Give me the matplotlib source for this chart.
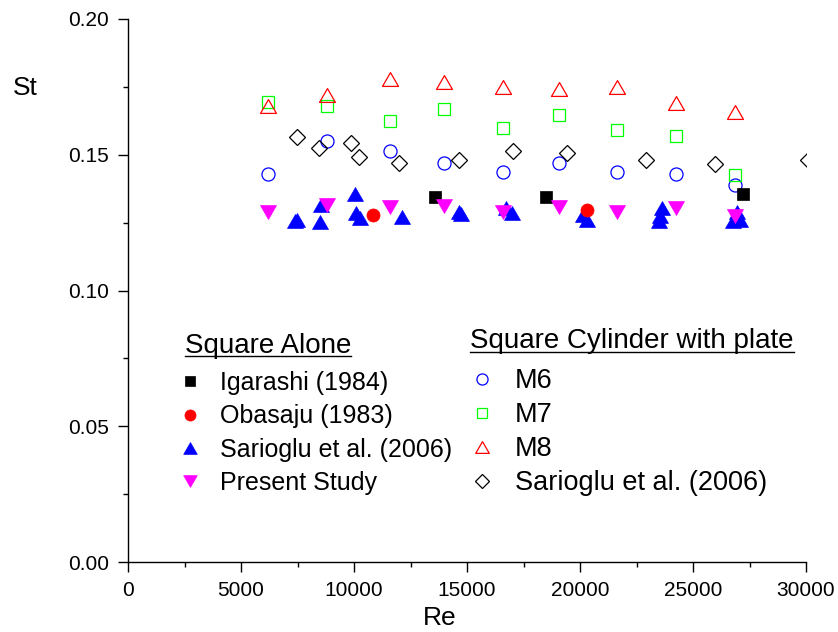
import matplotlib
matplotlib.use("Agg")
import matplotlib.pyplot as plt
from matplotlib.lines import Line2D

plt.rcParams['font.family'] = ['Liberation Sans', 'DejaVu Sans']

# ---------------- data ----------------
re_m = [6200, 8800, 11600, 14000, 16600, 19050, 21650, 24250, 26850]
st_m6 = [0.1430, 0.1552, 0.1512, 0.1468, 0.1438, 0.1468, 0.1438, 0.1428, 0.1390]
st_m7 = [0.1695, 0.1678, 0.1626, 0.1667, 0.1600, 0.1648, 0.1590, 0.1570, 0.1425]
st_m8 = [0.1678, 0.1720, 0.1778, 0.1768, 0.1748, 0.1744, 0.1748, 0.1690, 0.1657]

re_sar_plate = [7480, 8450, 9870, 10210, 11980, 14650, 17040, 19440, 22940, 25990, 30080]
st_sar_plate = [0.1565, 0.1525, 0.1545, 0.1493, 0.1468, 0.1480, 0.1515, 0.1507, 0.1480, 0.1466, 0.1480]

re_igarashi = [13580, 18480, 27230]
st_igarashi = [0.1345, 0.1345, 0.1356]

re_obasaju = [10840, 20300]
st_obasaju = [0.1278, 0.1298]

re_present = [6200, 8800, 11600, 14000, 16600, 19050, 21650, 24250, 26850]
st_present = [0.1290, 0.1315, 0.1306, 0.1310, 0.1288, 0.1308, 0.1288, 0.1303, 0.1274]

re_sar_alone = [7400, 7480, 8510, 8550, 10045, 10090, 10265, 12110, 14650, 14750,
                16730, 17005, 20120, 20300, 23510, 23550, 23640, 26790, 26960, 27080]
st_sar_alone = [0.1255, 0.1260, 0.1251, 0.1315, 0.1357, 0.1287, 0.1268, 0.1272, 0.1290, 0.1283,
                0.1303, 0.1284, 0.1278, 0.1260, 0.1257, 0.1274, 0.1303, 0.1256, 0.1290, 0.1260]

x_ticks = [0, 5000, 10000, 15000, 20000, 25000, 30000]
y_ticks = [0.00, 0.05, 0.10, 0.15, 0.20]

# ---------------- figure ----------------
W, H = 838, 632
fig = plt.figure(figsize=(W / 100, H / 100), dpi=100)
ax = fig.add_axes([128 / W, (H - 562) / H, (806 - 128) / W, (562 - 19) / H])

up_tri = [(0, 0.866), (-1, -0.866), (1, -0.866), (0, 0.866)]
dn_tri = [(0, -0.866), (-1, 0.866), (1, 0.866), (0, -0.866)]

BLUE, GREEN, RED, MAG = '#0000ff', '#00ff00', '#ff0000', '#ff00ff'

l_m6, = ax.plot(re_m, st_m6, ls='none', marker='o', ms=9.4, mfc='none', mec=BLUE, mew=0.9, label='M6')
l_m7, = ax.plot(re_m, st_m7, ls='none', marker='s', ms=8.3, mfc='none', mec=GREEN, mew=0.9, label='M7')
l_m8, = ax.plot(re_m, st_m8, ls='none', marker=up_tri, ms=11.5, mfc='none', mec=RED, mew=0.9, label='M8')
l_sp, = ax.plot(re_sar_plate, st_sar_plate, ls='none', marker='D', ms=8.0, mfc='none', mec='black', mew=0.9,
                label='Sarioglu et al. (2006)')
l_sa, = ax.plot(re_sar_alone, st_sar_alone, ls='none', marker=up_tri, ms=11.5, mfc=BLUE, mec=BLUE, mew=0.5,
                label='Sarioglu et al. (2006)')
l_ob, = ax.plot(re_obasaju, st_obasaju, ls='none', marker='o', ms=9.4, mfc=RED, mec=RED, mew=0.5,
                label='Obasaju (1983)')
l_ig, = ax.plot(re_igarashi, st_igarashi, ls='none', marker='s', ms=8.6, mfc='black', mec='black', mew=0.5,
                label='Igarashi (1984)')
l_ps, = ax.plot(re_present, st_present, ls='none', marker=dn_tri, ms=11.5, mfc=MAG, mec=MAG, mew=0.5,
                label='Present Study')

ax.set_xlim(0, 30000)
ax.set_ylim(0, 0.20)
ax.set_xticks(x_ticks)
ax.set_xticklabels([str(v) for v in x_ticks])
ax.set_yticks(y_ticks)
ax.set_yticklabels(['%.2f' % v for v in y_ticks])
ax.set_xticks([2500, 7500, 12500, 17500, 22500, 27500], minor=True)
ax.set_yticks([0.025, 0.075, 0.125, 0.175], minor=True)

for s in ['top', 'right']:
    ax.spines[s].set_visible(False)
for s in ['left', 'bottom']:
    ax.spines[s].set_linewidth(1.0)
ax.tick_params(which='major', direction='out', length=7, width=1.0, labelsize=15, pad=6.5)
ax.tick_params(which='minor', direction='out', length=3.5, width=1.0)

ax.set_xlabel('Re', fontsize=19)
ax.xaxis.set_label_coords((440 - 128) / 678, (562 - 618) / 543)
ax.xaxis.label.set_va('center')
ax.set_ylabel('St', fontsize=19, rotation=0, ha='center', va='center')
ax.yaxis.set_label_coords((25 - 128) / 678, (562 - 88) / 543)

# ---------------- legends ----------------
def figpt(x, y):
    return (x / W, (H - y) / H)

leg1 = fig.legend(handles=[l_ig, l_ob, l_sa, l_ps], loc='upper left',
                  bbox_to_anchor=figpt(180, 371), bbox_transform=fig.transFigure,
                  frameon=False, fontsize=18, handlelength=0.8, handletextpad=0.8,
                  labelspacing=0.37, borderpad=0, borderaxespad=0, markerscale=0.85)
leg2 = fig.legend(handles=[l_m6, l_m7, l_m8, l_sp], loc='upper left',
                  bbox_to_anchor=figpt(471, 368), bbox_transform=fig.transFigure,
                  frameon=False, fontsize=19.5, handlelength=0.8, handletextpad=0.82,
                  labelspacing=0.30, borderpad=0, borderaxespad=0, markerscale=0.85)

h1 = fig.text(*figpt(185, 353), 'Square Alone', fontsize=20, ha='left', va='baseline')
h2 = fig.text(*figpt(470, 348), 'Square Cylinder with plate', fontsize=20, ha='left', va='baseline')

fig.canvas.draw()
r = fig.canvas.get_renderer()
for t, uy in [(h1, 356), (h2, 352)]:
    bb = t.get_window_extent(r)
    fig.add_artist(Line2D([bb.x0 / W, bb.x1 / W], [(H - uy) / H, (H - uy) / H],
                          transform=fig.transFigure, color='black', lw=1.0))

fig.savefig('out.png', dpi=100)
